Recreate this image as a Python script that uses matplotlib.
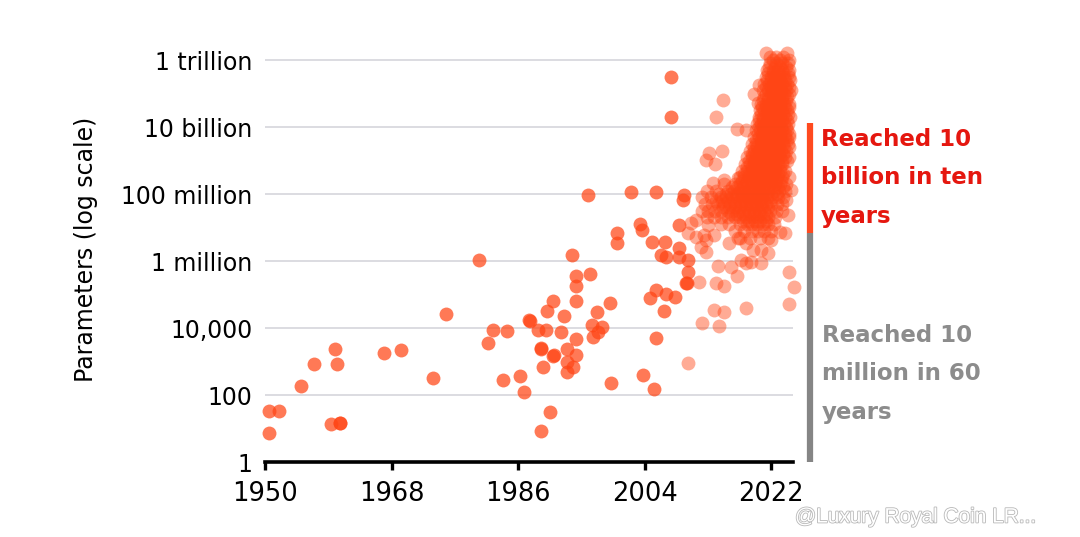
import numpy as np
import matplotlib
matplotlib.use("Agg")
import matplotlib.pyplot as plt
import matplotlib.patheffects as pe
from matplotlib.transforms import blended_transform_factory

plt.rcParams['font.family'] = ['DejaVu Sans']

# ---------------- data: (year, log10(parameters)) ----------------
early_points = [
    (1950.5, 1.53), (1952.0, 1.53), (1950.5, 0.86), (1955.1, 2.28), (1957.0, 2.93),
    (1960.0, 3.36), (1960.3, 2.93), (1959.4, 1.13), (1960.6, 1.16), (1960.7, 1.15),
    (1966.9, 3.24), (1969.4, 3.33), (1973.9, 2.50), (1975.8, 4.42), (1980.4, 6.02),
    (1981.7, 3.55), (1982.4, 3.94), (1984.4, 3.92), (1983.8, 2.45), (1986.2, 2.58),
    (1986.9, 2.10), (1987.6, 4.23), (1987.7, 4.22), (1988.8, 3.94), (1990.0, 3.94),
    (1990.1, 4.52), (1990.9, 4.81), (1992.5, 4.35), (1992.1, 3.87), (1989.2, 3.39),
    (1989.3, 3.37), (1991.0, 3.16), (1991.1, 3.18), (1989.6, 2.84), (1993.7, 6.19),
    (1994.2, 5.55), (1994.2, 5.26), (1994.2, 4.81), (1996.2, 5.60), (1993.0, 3.37),
    (1994.2, 3.66), (1994.2, 3.20), (1993.0, 2.99), (1992.9, 2.70), (1993.8, 2.83),
    (1997.2, 4.47), (1999.0, 4.74), (1996.5, 4.08), (1998.0, 4.02), (1997.4, 3.87),
    (1996.6, 3.73), (1999.2, 2.37), (2003.7, 2.59), (2005.4, 2.18), (1990.6, 1.48),
    (1989.2, 0.93), (2000.1, 6.55), (2000.1, 6.84), (2004.7, 4.90), (2005.6, 5.13),
    (2005.6, 3.69), (2006.7, 4.52), (1995.9, 7.97), (2002.1, 8.05), (2005.6, 8.05),
    (2009.6, 7.97), (2009.5, 7.82), (2007.7, 11.48), (2007.7, 10.31), (2003.4, 7.10),
    (2003.6, 6.93), (2005.0, 6.58), (2006.9, 6.56), (2006.3, 6.18), (2007.0, 6.13),
    (2008.9, 6.38), (2008.9, 6.13), (2010.1, 6.03), (2010.2, 5.68), (2009.9, 5.35),
    (2010.0, 5.33), (2007.0, 5.01), (2008.3, 4.93), (2008.9, 7.07),
]

recent_points = [
    (2010.6, 7.13), (2010.1, 6.83), (2011.3, 6.73), (2012.0, 6.43), (2012.7, 6.28),
    (2013.0, 7.07), (2012.5, 6.78), (2013.9, 6.78), (2014.4, 5.85), (2014.2, 5.35),
    (2015.3, 5.25), (2017.2, 5.55), (2018.4, 4.59), (2013.9, 4.54), (2015.3, 4.49),
    (2012.2, 4.14), (2014.6, 4.07), (2024.5, 5.68), (2025.3, 5.21), (2024.5, 4.71),
    (2010.2, 2.95), (2011.7, 5.37), (2013.7, 8.32), (2015.3, 8.42), (2017.3, 8.48),
    (2011.3, 7.22), (2012.7, 6.63), (2016.0, 6.53), (2017.3, 6.68), (2018.4, 6.53),
    (2019.4, 6.33), (2020.6, 6.33), (2021.5, 6.23), (2022.0, 6.63), (2023.2, 6.87),
    (2023.9, 6.83), (2024.4, 7.37), (2024.1, 7.82), (2024.8, 8.12), (2024.6, 8.52),
    (2016.3, 5.83), (2018.4, 5.93), (2019.1, 5.98), (2020.6, 5.93), (2017.7, 6.03),
    (2015.1, 10.81), (2014.2, 10.31), (2017.2, 9.93), (2018.4, 9.91), (2019.6, 11.00),
    (2020.3, 11.25), (2020.1, 10.71), (2013.2, 9.23), (2015.0, 9.29), (2012.7, 9.01),
    (2014.0, 8.90),
]

# dense recent cluster, row by row: (log10(parameters), [years])
cluster_rows = [
    (12.20, [2021.3, 2024.2]),
    (12.10, [2021.8, 2022.7, 2023.7]),
    (12.00, [2022.2, 2023.2, 2024.5]),
    (11.90, [2021.8, 2022.7, 2023.5, 2024.4]),
    (11.80, [2021.7, 2022.5, 2023.3, 2024.1]),
    (11.70, [2021.4, 2022.2, 2022.9, 2023.6, 2024.5]),
    (11.60, [2021.6, 2022.3, 2023.0, 2023.7, 2024.4]),
    (11.50, [2021.2, 2021.9, 2022.5, 2023.1, 2023.8, 2024.6]),
    (11.40, [2021.4, 2022.0, 2022.7, 2023.3, 2024.0, 2024.7]),
    (11.30, [2021.0, 2021.7, 2022.3, 2023.0, 2023.6, 2024.3]),
    (11.20, [2021.2, 2021.9, 2022.5, 2023.2, 2023.9, 2024.5]),
    (11.10, [2020.8, 2021.5, 2022.1, 2022.8, 2023.4, 2024.1, 2024.8]),
    (11.00, [2021.3, 2021.9, 2022.6, 2023.2, 2023.8, 2024.5]),
    (10.90, [2021.0, 2021.6, 2022.3, 2022.9, 2023.5, 2024.2]),
    (10.80, [2020.9, 2021.6, 2022.2, 2022.8, 2023.5, 2024.1]),
    (10.70, [2020.6, 2021.2, 2021.9, 2022.5, 2023.2, 2023.8, 2024.5]),
    (10.60, [2020.7, 2021.3, 2021.9, 2022.6, 2023.2, 2023.9, 2024.6]),
    (10.50, [2020.4, 2021.0, 2021.6, 2022.2, 2022.8, 2023.5, 2024.2]),
    (10.40, [2020.5, 2021.2, 2021.8, 2022.4, 2023.0, 2023.7, 2024.4]),
    (10.30, [2020.2, 2020.8, 2021.5, 2022.0, 2022.7, 2023.3, 2024.0, 2024.7]),
    (10.20, [2020.3, 2020.9, 2021.6, 2022.2, 2022.8, 2023.5, 2024.2]),
    (10.10, [2020.0, 2020.6, 2021.2, 2021.8, 2022.5, 2023.1, 2023.8, 2024.4]),
    (10.00, [2020.3, 2020.9, 2021.5, 2022.1, 2022.8, 2023.4, 2024.1]),
    (9.90, [2019.8, 2020.4, 2021.0, 2021.7, 2022.3, 2022.9, 2023.6, 2024.3]),
    (9.80, [2020.1, 2020.7, 2021.3, 2022.0, 2022.6, 2023.2, 2023.9, 2024.6]),
    (9.70, [2019.5, 2020.2, 2020.8, 2021.4, 2022.0, 2022.7, 2023.3, 2024.0, 2024.6]),
    (9.60, [2019.8, 2020.5, 2021.1, 2021.7, 2022.4, 2023.0, 2023.6, 2024.3]),
    (9.50, [2019.2, 2019.9, 2020.5, 2021.1, 2021.8, 2022.4, 2023.0, 2023.7, 2024.4]),
    (9.40, [2019.5, 2020.0, 2020.6, 2021.3, 2021.9, 2022.5, 2023.1, 2023.8, 2024.5]),
    (9.30, [2019.0, 2019.6, 2020.3, 2020.9, 2021.5, 2022.2, 2022.8, 2023.4, 2024.1]),
    (9.20, [2019.3, 2019.9, 2020.6, 2021.2, 2021.8, 2022.5, 2023.1, 2023.7]),
    (9.10, [2018.6, 2019.3, 2019.9, 2020.6, 2021.2, 2021.9, 2022.5, 2023.2, 2023.9, 2024.5]),
    (9.00, [2018.8, 2019.6, 2020.3, 2020.9, 2021.5, 2022.2, 2022.8, 2023.5, 2024.2]),
    (8.90, [2018.3, 2019.0, 2019.6, 2020.3, 2020.9, 2021.6, 2022.2, 2022.9, 2023.6]),
    (8.80, [2018.6, 2019.3, 2019.9, 2020.6, 2021.2, 2021.9, 2022.6, 2023.3]),
    (8.70, [2017.9, 2018.6, 2019.2, 2019.9, 2020.5, 2021.2, 2021.9, 2022.5, 2023.2, 2024.0]),
    (8.60, [2018.2, 2018.9, 2019.6, 2020.2, 2020.9, 2021.5, 2022.2, 2022.9, 2023.7]),
    (8.50, [2017.5, 2018.2, 2018.9, 2019.5, 2020.2, 2020.8, 2021.5, 2022.1, 2022.8, 2023.6]),
    (8.40, [2017.8, 2018.6, 2019.2, 2019.9, 2020.6, 2021.3, 2022.0, 2022.7, 2023.4]),
    (8.30, [2015.3, 2016.8, 2017.6, 2018.4, 2019.1, 2019.8, 2020.4, 2021.1, 2021.8, 2022.5, 2023.3, 2024.1]),
    (8.20, [2016.4, 2017.2, 2018.0, 2018.7, 2019.4, 2020.1, 2020.8, 2021.5, 2022.2, 2023.0, 2023.7]),
    (8.10, [2012.8, 2014.2, 2015.9, 2016.7, 2017.5, 2018.2, 2018.9, 2019.6, 2020.3, 2020.9, 2021.6, 2022.4, 2023.1, 2023.9]),
    (8.00, [2014.6, 2015.5, 2016.3, 2017.1, 2017.9, 2018.6, 2019.3, 2020.0, 2020.6, 2021.3, 2022.0, 2022.8]),
    (7.90, [2012.2, 2013.5, 2014.8, 2015.6, 2016.4, 2017.2, 2017.9, 2018.6, 2019.3, 2020.0, 2020.7, 2021.4, 2022.1, 2022.9, 2023.7]),
    (7.80, [2014.1, 2015.0, 2015.9, 2016.7, 2017.5, 2018.2, 2018.9, 2019.6, 2020.3, 2021.0, 2021.8]),
    (7.70, [2012.6, 2013.6, 2014.5, 2015.3, 2016.1, 2016.9, 2017.7, 2018.4, 2019.1, 2019.8, 2020.5, 2021.2, 2022.0, 2022.8, 2023.6]),
    (7.60, [2015.2, 2016.0, 2016.8, 2017.6, 2018.4, 2019.2, 2020.0, 2020.7, 2021.5]),
    (7.50, [2012.2, 2013.0, 2014.0, 2014.9, 2015.8, 2016.6, 2017.4, 2018.2, 2018.9, 2019.6, 2020.3, 2021.0, 2021.8, 2022.7, 2023.6]),
    (7.40, [2016.3, 2017.2, 2018.0, 2018.8, 2019.6, 2020.4, 2021.2]),
    (7.30, [2012.8, 2013.8, 2014.8, 2015.8, 2016.8, 2017.6, 2018.4, 2019.2, 2020.0, 2020.8, 2021.6, 2022.5]),
    (7.20, [2018.0, 2018.9, 2019.7, 2020.4, 2021.2]),
    (7.10, [2014.8, 2016.0, 2017.5, 2018.5, 2019.3, 2020.0, 2020.8, 2021.6, 2022.4]),
    (6.90, [2016.8, 2018.2, 2019.2, 2020.1, 2021.0, 2022.0]),
    (6.70, [2017.5, 2019.0, 2020.4, 2021.5]),
]

x_ticks = [1950, 1968, 1986, 2004, 2022]
y_ticks = [1, 1e2, 1e4, 1e6, 1e8, 1e10, 1e12]
y_tick_labels = ["1", "100", "10,000", "1 million", "100 million", "10 billion", "1 trillion"]

# ranges marked by the bar on the right (log10 parameters)
red_range = (6.84, 10.12)
gray_range = (0.0, 6.84)

# ---------------- figure ----------------
W, H = 1080, 537
fig = plt.figure(figsize=(W / 100, H / 100), dpi=100)
ax = fig.add_axes([265 / W, 1 - 462 / H, (793 - 265) / W, (462 - 45) / H])
ax.set_yscale('log')
ax.set_xlim(1950, 2025.1)
ax.set_ylim(1, 10 ** 12.45)

base = '#FF4515'
ey = np.array([p[0] for p in early_points])
ev = 10 ** np.array([p[1] for p in early_points])
ax.scatter(ey, ev, s=100, color=base, alpha=0.72, linewidths=0, clip_on=False, zorder=3)

ry = [p[0] for p in recent_points]
rv = [p[1] for p in recent_points]
for lv, yrs in cluster_rows:
    ry.extend(yrs)
    rv.extend([lv] * len(yrs))
ax.scatter(np.array(ry), 10 ** np.array(rv), s=100, color=base, alpha=0.45,
           linewidths=0, clip_on=False, zorder=3)

ax.set_xticks(x_ticks)
ax.set_xticklabels([str(t) for t in x_ticks], fontsize=18.5)
ax.set_yticks(y_ticks)
ax.set_yticklabels(y_tick_labels, fontsize=17)
ax.yaxis.set_minor_locator(matplotlib.ticker.NullLocator())
ax.tick_params(axis='y', length=0, pad=9)
ax.tick_params(axis='x', length=5.5, width=2.4, color='black', pad=8, direction='out')

for s in ['left', 'right', 'top']:
    ax.spines[s].set_visible(False)
ax.spines['bottom'].set_linewidth(2.6)
ax.spines['bottom'].set_color('black')

for yt in y_ticks[1:]:
    ax.axhline(yt, color='#D6D6DB', lw=1.2, zorder=1)

# y label
fig.text(86 / W, 1 - 249 / H, "Parameters (log scale)", rotation=90,
         ha='center', va='center', fontsize=17)

# right bar
tr = blended_transform_factory(ax.transAxes, ax.transData)
bx = (810 - 265) / (793 - 265)
ax.plot([bx, bx], [10 ** red_range[0], 10 ** red_range[1]], color='#FF4A1F', lw=4.5,
        solid_capstyle='butt', transform=tr, clip_on=False)
ax.plot([bx, bx], [10 ** gray_range[0], 10 ** gray_range[1]], color='#858585', lw=4.5,
        solid_capstyle='butt', transform=tr, clip_on=False)

fig.text(821 / W, 1 - 178 / H, "Reached 10\nbillion in ten\nyears", color='#E5170F',
         fontsize=16.5, fontweight='bold', ha='left', va='center', linespacing=1.85)
fig.text(822 / W, 1 - 374 / H, "Reached 10\nmillion in 60\nyears", color='#8C8C8C',
         fontsize=16.5, fontweight='bold', ha='left', va='center', linespacing=1.85)

# watermark
fig.text(795 / W, 1 - 517 / H, "@Luxury Royal Coin LR...", color='white',
         fontsize=15, family=['Liberation Sans', 'DejaVu Sans'], ha='left', va='center',
         path_effects=[pe.withStroke(linewidth=1.2, foreground='#B8B8B8')])

fig.savefig('out.png', dpi=100)
